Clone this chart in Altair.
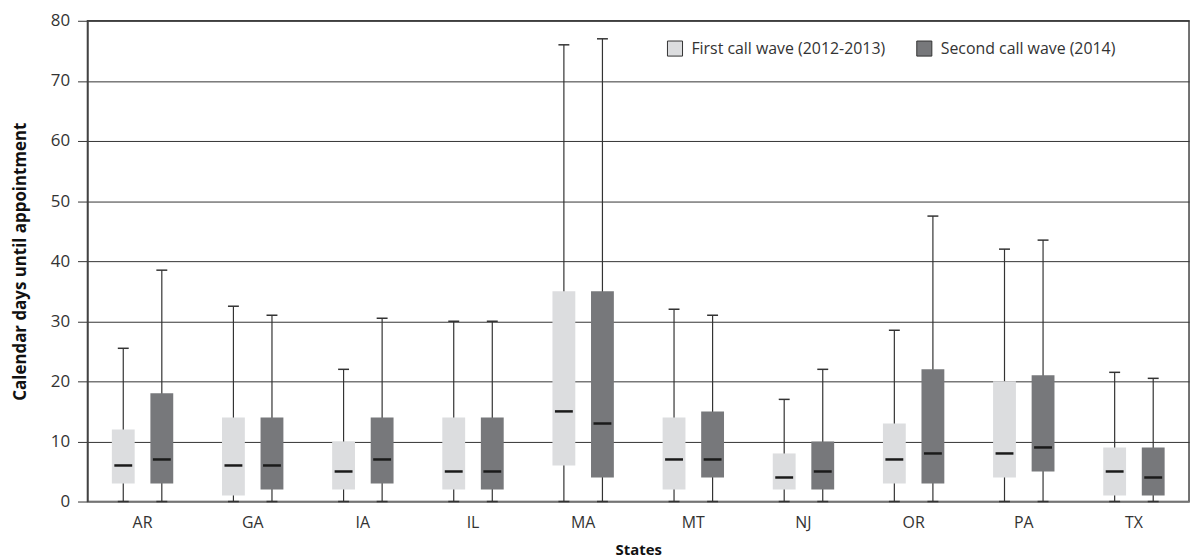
import altair as alt
import pandas as pd

states = ["AR", "GA", "IA", "IL", "MA", "MT", "NJ", "OR", "PA", "TX"]
waves = ["First call wave (2012-2013)", "Second call wave (2014)"]

first_min = [0, 0, 0, 0, 0, 0, 0, 0, 0, 0]
first_q1 = [3, 1, 2, 2, 6, 2, 2, 3, 4, 1]
first_med = [6, 6, 5, 5, 15, 7, 4, 7, 8, 5]
first_q3 = [12, 14, 10, 14, 35, 14, 8, 13, 20, 9]
first_max = [25.5, 32.5, 22, 30, 76, 32, 17, 28.5, 42, 21.5]

second_min = [0, 0, 0, 0, 0, 0, 0, 0, 0, 0]
second_q1 = [3, 2, 3, 2, 4, 4, 2, 3, 5, 1]
second_med = [7, 6, 7, 5, 13, 7, 5, 8, 9, 4]
second_q3 = [18, 14, 14, 14, 35, 15, 10, 22, 21, 9]
second_max = [38.5, 31, 30.5, 30, 77, 31, 22, 47.5, 43.5, 20.5]

rows = []
for i, s in enumerate(states):
    rows.append(dict(state=s, wave=waves[0], lo=first_min[i], q1=first_q1[i], med=first_med[i], q3=first_q3[i], hi=first_max[i]))
    rows.append(dict(state=s, wave=waves[1], lo=second_min[i], q1=second_q1[i], med=second_med[i], q3=second_q3[i], hi=second_max[i]))
df = pd.DataFrame(rows)

FONT = "Open Sans"

x = alt.X("state:N", title="States", sort=states,
          scale=alt.Scale(paddingInner=0.3, paddingOuter=0.15),
          axis=alt.Axis(labelAngle=0, labelFontSize=16, labelColor="#333", labelFont=FONT,
                        titleFont=FONT, titleFontSize=15, titleFontWeight="bold", titleColor="#111",
                        ticks=False, domainColor="#888", domainWidth=1.5, labelPadding=13, titlePadding=12))
xo = alt.XOffset("wave:N", sort=waves, scale=alt.Scale(paddingInner=0, paddingOuter=0))
yscale = alt.Scale(domain=[0, 80], nice=False)
yaxis = alt.Axis(values=[0, 10, 20, 30, 40, 50, 60, 70, 80], labelFontSize=17, labelColor="#333", labelFont=FONT,
                 titleFont=FONT, titleFontSize=17, titleFontWeight="bold", titleColor="#111",
                 grid=True, gridColor="#333", gridWidth=1, tickSize=10, tickColor="#333",
                 domainColor="#444", domainWidth=1.5, labelPadding=8, titlePadding=21)

base = alt.Chart(df)

rule = base.mark_rule(color="#333", strokeWidth=1.2).encode(
    x=x, xOffset=xo,
    y=alt.Y("lo:Q", scale=yscale, axis=yaxis, title="Calendar days until appointment"),
    y2="hi:Q")

cap_lo = base.mark_tick(color="#333", size=11, thickness=1.5, opacity=1).encode(x=x, xOffset=xo, y=alt.Y("lo:Q", scale=yscale))
cap_hi = base.mark_tick(color="#333", size=11, thickness=1.5, opacity=1).encode(x=x, xOffset=xo, y=alt.Y("hi:Q", scale=yscale))

box = base.mark_bar(size=23, opacity=1).encode(
    x=x, xOffset=xo,
    y=alt.Y("q1:Q", scale=yscale),
    y2="q3:Q",
    color=alt.Color("wave:N", sort=waves,
                    scale=alt.Scale(domain=waves, range=["#dcdddf", "#77787b"]),
                    legend=alt.Legend(title=None, orient="none", legendX=583, legendY=19,
                                      direction="horizontal", symbolType="square", symbolSize=230,
                                      symbolStrokeColor="#333", symbolStrokeWidth=1,
                                      labelFont=FONT, labelFontSize=16, labelColor="#333", labelLimit=400,
                                      columnPadding=28, symbolOffset=0, labelOffset=8)))

med = base.mark_tick(color="#1a1a1a", size=18, thickness=2.5, opacity=1).encode(x=x, xOffset=xo, y=alt.Y("med:Q", scale=yscale))

chart = alt.layer(rule, cap_lo, cap_hi, box, med).properties(
    width=1109, height=484,
    autosize=alt.AutoSizeParams(type="none"),
    padding={"left": 80, "top": 11, "right": 2, "bottom": 57},
).configure_view(stroke="#444", strokeWidth=1.5)

chart.save("out.html", embed_options={"renderer": "svg", "actions": False})
